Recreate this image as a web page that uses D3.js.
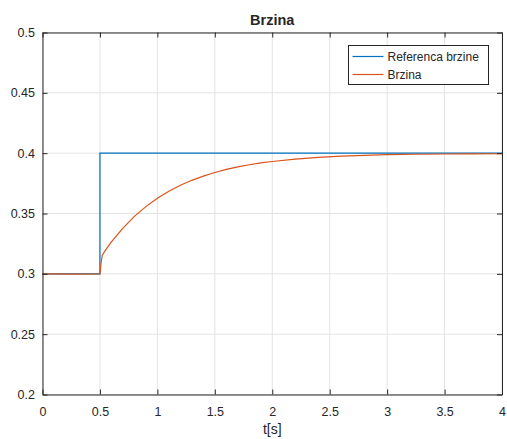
<!DOCTYPE html>
<html>
<head>
<meta charset="utf-8">
<script src="https://cdn.jsdelivr.net/npm/d3@7"></script>
<style>
  body { margin: 0; background: #fff; }
  svg text { font-family: "Liberation Sans", Arial, sans-serif; fill: #262626; }
</style>
</head>
<body>
<div id="chart"></div>
<script>
// data
var refT = [0, 0.5, 0.5, 4];
var refV = [0.3, 0.3, 0.4, 0.4];

var speedT = [0, 0.25, 0.5, 0.51, 0.52, 0.55, 0.6, 0.7, 0.8, 0.9, 1.0, 1.1, 1.2, 1.3, 1.4, 1.5,
              1.6, 1.7, 1.8, 1.9, 2.0, 2.2, 2.4, 2.6, 2.8, 3.0, 3.25, 3.5, 3.75, 4.0];
var speedV = [0.3, 0.2998, 0.2999, 0.309, 0.3155, 0.3199, 0.3264, 0.3379, 0.3476, 0.3557, 0.3626,
              0.3685, 0.3734, 0.3775, 0.381, 0.384, 0.3865, 0.3886, 0.3904, 0.3919, 0.3931,
              0.3951, 0.3965, 0.3975, 0.3982, 0.3988, 0.3991, 0.3993, 0.3994, 0.3995];

var xTicks = [0, 0.5, 1, 1.5, 2, 2.5, 3, 3.5, 4];
var yTicks = [0.2, 0.25, 0.3, 0.35, 0.4, 0.45, 0.5];
var seriesNames = ["Referenca brzine", "Brzina"];
var seriesColors = ["#0072bd", "#d95319"];

var width = 507, height = 439;
// plot box (window.top is reserved, so use pl/pr/pt/pb)
var pl = 42.5, pr = 502, pt = 32.5, pb = 394.5;

var x = d3.scaleLinear().domain([0, 4]).range([pl, pr]);
var y = d3.scaleLinear().domain([0.2, 0.5]).range([pb, pt]);

var svg = d3.select("#chart").append("svg")
    .attr("width", width)
    .attr("height", height);

//grid
var grid = svg.append("g");
grid.selectAll("line.vx").data(xTicks).enter().append("line")
    .attr("x1", function(d){ return x(d); }).attr("x2", function(d){ return x(d); })
    .attr("y1", pt).attr("y2", pb)
    .attr("stroke", "#e3e3e3").attr("stroke-width", 1);
grid.selectAll("line.hy").data(yTicks).enter().append("line")
    .attr("y1", function(d){ return y(d); }).attr("y2", function(d){ return y(d); })
    .attr("x1", pl).attr("x2", pr)
    .attr("stroke", "#e3e3e3").attr("stroke-width", 1);

//lines
var line = d3.line()
    .x(function(d){ return x(d[0]); })
    .y(function(d){ return y(d[1]); });

svg.append("path")
    .attr("d", line(d3.zip(refT, refV)))
    .attr("fill", "none").attr("stroke", seriesColors[0]).attr("stroke-width", 1.2);
svg.append("path")
    .attr("d", line(d3.zip(speedT, speedV)))
    .attr("fill", "none").attr("stroke", seriesColors[1]).attr("stroke-width", 1.2);

//axes, ticks inside on all four sides
var tl = 5;
var fmt = function(d){ return String(d); };
svg.append("g").attr("transform", "translate(0," + pb + ")")
    .call(d3.axisBottom(x).tickValues(xTicks).tickSizeInner(-tl).tickSizeOuter(0).tickPadding(12.5).tickFormat(fmt));
svg.append("g").attr("transform", "translate(0," + pt + ")")
    .call(d3.axisTop(x).tickValues(xTicks).tickSizeInner(-tl).tickSizeOuter(0).tickFormat(""));
svg.append("g").attr("transform", "translate(" + pl + ",0)")
    .call(d3.axisLeft(y).tickValues(yTicks).tickSizeInner(-tl).tickSizeOuter(0).tickPadding(7.5).tickFormat(fmt));
svg.append("g").attr("transform", "translate(" + pr + ",0)")
    .call(d3.axisRight(y).tickValues(yTicks).tickSizeInner(-tl).tickSizeOuter(0).tickFormat(""));

svg.selectAll(".domain, .tick line").attr("stroke", "#262626");
svg.selectAll(".tick text").attr("font-size", 12.5).attr("fill", "#262626")
    .style("font-family", "'Liberation Sans', Arial, sans-serif");

//title and label
svg.append("text").text("Brzina")
    .attr("x", (pl + pr) / 2).attr("y", 25)
    .attr("text-anchor", "middle").attr("font-size", 14.5).attr("font-weight", "bold");
svg.append("text").text("t[s]")
    .attr("x", (pl + pr) / 2).attr("y", 434)
    .attr("text-anchor", "middle").attr("font-size", 14);

//legend
var lg = svg.append("g").attr("transform", "translate(348.5,45.5)");
lg.append("rect").attr("width", 140).attr("height", 39)
    .attr("fill", "#fff").attr("stroke", "#262626").attr("stroke-width", 1);
seriesNames.forEach(function(n, i){
    var yy = 11 + i * 18;
    lg.append("line").attr("x1", 4).attr("x2", 35).attr("y1", yy).attr("y2", yy)
        .attr("stroke", seriesColors[i]).attr("stroke-width", 1.2);
    lg.append("text").text(n).attr("x", 39).attr("y", yy + 4).attr("font-size", 12);
});
</script>
</body>
</html>
